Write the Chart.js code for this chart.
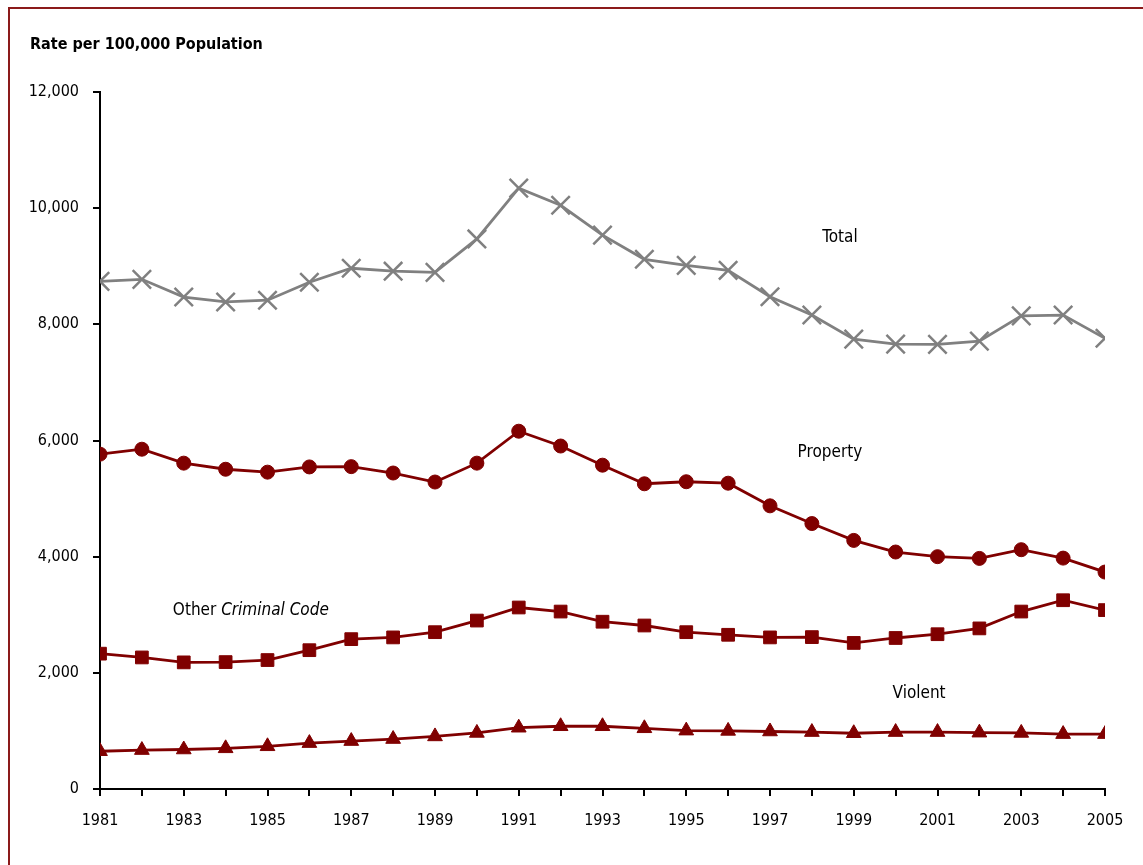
<!DOCTYPE html>
<html>
<head>
<meta charset="utf-8">
<script src="https://cdn.jsdelivr.net/npm/chart.js@4.4.1/dist/chart.umd.min.js"></script>
<style>
  html, body { margin: 0; padding: 0; background: #fff; }
  #wrap { width: 1143px; height: 865px; position: relative; }
</style>
</head>
<body>
<div id="wrap"><canvas id="crimeChart" width="1143" height="865"></canvas></div>
<script>
const years = [1981, 1982, 1983, 1984, 1985, 1986, 1987, 1988, 1989, 1990,
  1991, 1992, 1993, 1994, 1995, 1996, 1997, 1998, 1999, 2000,
  2001, 2002, 2003, 2004, 2005];

const totalRate = [8740, 8775, 8470, 8385, 8415, 8725, 8965, 8915, 8895, 9470,
  10345, 10050, 9535, 9120, 9015, 8930, 8475, 8160, 7745, 7660,
  7655, 7710, 8145, 8160, 7760];

const propertyRate = [5765, 5850, 5610, 5505, 5455, 5545, 5550, 5440, 5285, 5610,
  6160, 5905, 5575, 5255, 5290, 5265, 4875, 4570, 4280, 4080,
  4000, 3970, 4120, 3975, 3735];

const otherRate = [2330, 2265, 2180, 2185, 2220, 2390, 2580, 2610, 2700, 2900,
  3125, 3055, 2880, 2815, 2700, 2655, 2610, 2615, 2515, 2600,
  2665, 2765, 3055, 3250, 3080];

const violentRate = [650, 670, 680, 700, 735, 790, 825, 860, 905, 965,
  1055, 1080, 1080, 1045, 1005, 1000, 990, 980, 960, 980,
  980, 970, 965, 945, 945];

const yTicks = [0, 2000, 4000, 6000, 8000, 10000, 12000];

const FONT = "'Liberation Sans Narrow', 'Arial Narrow', 'DejaVu Sans Condensed', sans-serif";
const RED = "#800000";
const GREY = "#808080";

// series labels placed in data units
const seriesLabels = [
  { parts: [["Total", ""]], x: 1998.67, y: 9500, align: "center" },
  { parts: [["Property", ""]], x: 1998.43, y: 5790, align: "center" },
  { parts: [["Other ", ""], ["Criminal Code", "italic "]], x: 1982.74, y: 3080, align: "left" },
  { parts: [["Violent", ""]], x: 2000.56, y: 1635, align: "center" },
];

const decorations = {
  id: "decorations",
  beforeDraw(chart) {
    const ctx = chart.ctx;
    ctx.save();
    ctx.fillStyle = "#fff";
    ctx.fillRect(0, 0, chart.width, chart.height);
    // frame
    ctx.strokeStyle = "#8b1a1a";
    ctx.lineWidth = 2;
    ctx.strokeRect(9, 8, chart.width + 20, chart.height + 20);
    ctx.restore();
  },
  afterDraw(chart) {
    const ctx = chart.ctx;
    const xs = chart.scales.x;
    const ys = chart.scales.y;
    ctx.save();
    ctx.fillStyle = "#000";
    ctx.textBaseline = "middle";
    ctx.font = "bold 16px " + FONT;
    ctx.textAlign = "left";
    ctx.fillText("Rate per 100,000 Population", 30, 45);

    seriesLabels.forEach(function (lab) {
      let total = 0;
      lab.parts.forEach(function (p) {
        ctx.font = p[1] + "17px " + FONT;
        total += ctx.measureText(p[0]).width;
      });
      let px = xs.getPixelForValue(lab.x);
      const py = ys.getPixelForValue(lab.y);
      if (lab.align === "center") px -= total / 2;
      lab.parts.forEach(function (p) {
        ctx.font = p[1] + "17px " + FONT;
        ctx.fillText(p[0], px, py);
        px += ctx.measureText(p[0]).width;
      });
    });
    ctx.restore();
  },
};

function series(label, values, color, style, radius) {
  return {
    label: label,
    data: years.map((yr, i) => ({ x: yr, y: values[i] })),
    borderColor: color,
    backgroundColor: color,
    borderWidth: 2.8,
    pointStyle: style,
    pointRadius: radius,
    pointBorderWidth: style === "crossRot" ? 2.5 : 1,
    pointBorderColor: color,
    pointBackgroundColor: color,
    tension: 0,
  };
}

new Chart(document.getElementById("crimeChart"), {
  type: "line",
  data: {
    datasets: [
      series("Total", totalRate, GREY, "crossRot", 13),
      series("Property", propertyRate, RED, "circle", 7),
      series("Other Criminal Code", otherRate, RED, "rect", 9),
      series("Violent", violentRate, RED, "triangle", 8.5),
    ],
  },
  options: {
    responsive: false,
    animation: false,
    layout: { padding: { top: 92, left: 10, right: 38, bottom: 20 } },
    plugins: {
      legend: { display: false },
      tooltip: { enabled: false },
    },
    scales: {
      x: {
        type: "linear",
        min: 1981,
        max: 2005,
        afterBuildTicks(scale) {
          scale.ticks = years.map((v) => ({ value: v }));
        },
        afterFit(scale) {
          scale.height = 56;
        },
        grid: {
          drawOnChartArea: false,
          drawTicks: true,
          tickLength: 7,
          color: "#000",
          lineWidth: 2,
        },
        border: { display: true, color: "#000", width: 2 },
        ticks: {
          autoSkip: false,
          maxRotation: 0,
          padding: 15,
          color: "#000",
          font: { family: FONT, size: 16 },
          callback: (v) => (v % 2 === 1 ? String(v) : ""),
        },
      },
      y: {
        min: 0,
        max: 12000,
        afterBuildTicks(scale) {
          scale.ticks = yTicks.map((v) => ({ value: v }));
        },
        afterFit(scale) {
          scale.width = 90;
        },
        grid: {
          drawOnChartArea: false,
          drawTicks: true,
          tickLength: 7,
          color: "#000",
          lineWidth: 2,
        },
        border: { display: true, color: "#000", width: 2 },
        ticks: {
          padding: 14,
          color: "#000",
          font: { family: FONT, size: 16 },
          callback: (v) => v.toLocaleString("en-US"),
        },
      },
    },
  },
  plugins: [decorations],
});
</script>
</body>
</html>
